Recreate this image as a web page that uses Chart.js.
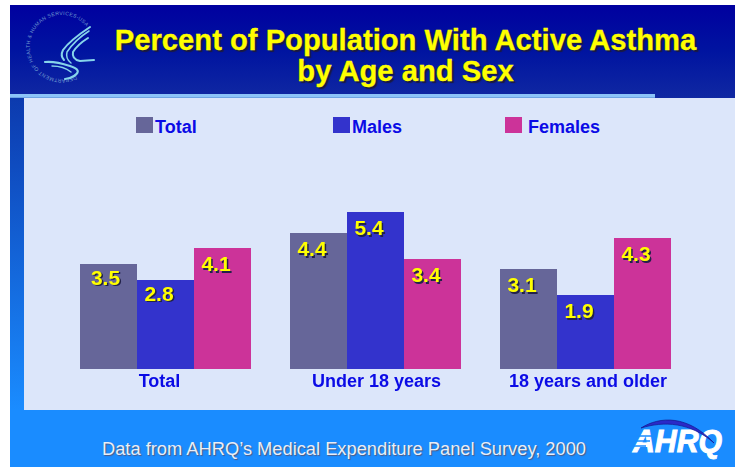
<!DOCTYPE html>
<html><head><meta charset="utf-8">
<script src="https://cdn.jsdelivr.net/npm/chart.js@4"></script>
<style>
html,body{margin:0;padding:0;background:#fff;width:735px;height:467px;overflow:hidden;font-family:"Liberation Sans",Arial,sans-serif}
.abs{position:absolute}
#foot{left:10px;top:98px;width:725px;height:369px;background:#1a8cff}
#strip{left:10px;top:98px;width:14px;height:312px;background:linear-gradient(#0c3aae,#1a8cff)}
#head{left:10px;top:5px;width:725px;height:93px;background:linear-gradient(#00009f,#0014a0 50%,#1028a2)}
#rule{left:10px;top:94px;width:645px;height:4px;background:#8cc4f8;border-bottom:1px solid #6ea4e4;box-sizing:border-box}
#panel{left:24px;top:98px;width:711px;height:312px;background:#dce6fa}
#title{left:75px;top:25px;width:661px;text-align:center;color:#ffff00;font-weight:bold;font-size:29.2px;line-height:31px;text-shadow:2px 2px 1px #1a1a40;-webkit-text-stroke:.3px #ffff00}
#note{left:102px;top:439px;color:#e8eef8;font-size:18.3px;line-height:20px;white-space:nowrap;text-shadow:1px 1px 1px #505a80}
.box{position:absolute;width:17px;height:16px}
.lab{position:absolute;color:#0b0be6;font-weight:bold;font-size:18px;line-height:18px;white-space:nowrap}
canvas{position:absolute;left:0;top:0}
svg{position:absolute;overflow:visible}
</style></head>
<body>
<div class="abs" id="foot"></div><div class="abs" id="strip"></div><div class="abs" id="head"></div>
<div class="abs" id="panel"></div><div class="abs" id="rule"></div>
<svg style="left:0;top:0" width="735" height="467">
  <defs><path id="ring" d="M 76 75.7 A 32 32 0 1 1 76.2 75.6"/></defs>
  <text font-family="Liberation Sans" font-size="5.2" fill="#6f9ad0" letter-spacing=".3"><textPath href="#ring">DEPARTMENT OF HEALTH &amp; HUMAN SERVICES-USA</textPath></text>
  <g fill="none" stroke="#86d4ea" stroke-linecap="round">
    <path d="M90 27 C78 35 68 43 63 50 C61 54 61 57 64 60" stroke-width="2"/>
    <path d="M89 31 C78 38 71 46 67 52 C66 56 67 60 71 63" stroke-width="1.5"/>
    <path d="M88 38 C80 43 76 47 73 52 C72 57 75 60 80 61 L94 60" stroke-width="2"/>
    <path d="M45 62 C55 61 64 64 70 66 C79 69 80 72 74 76 C71 78 68 79 65 79" stroke-width="2.2"/>
    <path d="M52 66 C60 66 66 68 71 72" stroke-width="1.4"/>
  </g>
  <g>
    <text x="633" y="452" font-family="Liberation Sans" font-weight="bold" font-style="italic" font-size="31" fill="#fff" stroke="#fff" stroke-width="1" textLength="89" lengthAdjust="spacingAndGlyphs">AHRQ</text>
    <path d="M630 436h22M628 441h22M626 446h20" stroke="#1a8cff" stroke-width="1.6"/>
    <path d="M641 428 C660 416 688 415 714 443 C690 422 664 421 641 428Z" fill="#2a2ac8" stroke="#14148c" stroke-width=".7"/>
  </g>
</svg>
<div class="abs" id="title">Percent of Population With Active Asthma<br>by Age and Sex</div>
<div class="abs" id="note">Data from AHRQ’s Medical Expenditure Panel Survey, 2000</div>
<div id="legend"></div>
<canvas id="c" width="735" height="467"></canvas>
<script>
const categories = ["Total", "Under 18 years", "18 years and older"];
const seriesNames = ["Total", "Males", "Females"];
const seriesColors = ["#666699", "#3333cc", "#cc3399"];
// Printed percentages, as labelled on the bars
const totalLabels = [3.5, 4.4, 3.1];
const malesLabels = [2.8, 5.4, 1.9];
const femalesLabels = [4.1, 3.4, 4.3];
// Bar heights as actually drawn in the picture (they are not quite proportional to the printed labels)
const totalHeights = [3.5, 4.53, 3.33];
const malesHeights = [2.97, 5.23, 2.47];
const femalesHeights = [4.03, 3.67, 4.37];
const legendBoxX = [136, 333, 505];
const legendTextX = [155, 352, 528];
const tickNudgeX = [-6, 1, 2.5];

const lg = document.getElementById('legend');
seriesNames.forEach((n, i) => {
  const b = document.createElement('div'); b.className = 'box';
  b.style.cssText = `left:${legendBoxX[i]}px;top:117px;background:${seriesColors[i]}`;
  const t = document.createElement('div'); t.className = 'lab'; t.textContent = n;
  t.style.cssText = `left:${legendTextX[i]}px;top:118px`;
  lg.append(b, t);
});

const labelSets = [totalLabels, malesLabels, femalesLabels];
const valueLabels = {
  id: 'valueLabels',
  afterDatasetsDraw(chart) {
    const ctx = chart.ctx;
    ctx.save();
    ctx.font = 'bold 21px "Liberation Sans"';
    ctx.textAlign = 'center'; ctx.textBaseline = 'middle';
    chart.data.datasets.forEach((ds, d) => {
      chart.getDatasetMeta(d).data.forEach((bar, i) => {
        const s = labelSets[d][i].toFixed(1);
        const first = i === 0 && d < 2;
        const x = bar.x + (i === 0 && d === 0 ? -3 : -6.5);
        const y = bar.y + (first ? 15 : 17.5);
        ctx.fillStyle = '#22224a'; ctx.fillText(s, x + 1.5, y + 1.5);
        ctx.fillStyle = '#ffff00'; ctx.fillText(s, x, y);
      });
    });
    const xs = chart.scales.x;
    ctx.font = 'bold 18px "Liberation Sans"';
    ctx.fillStyle = '#0b0be6';
    categories.forEach((c, i) => ctx.fillText(c, xs.getPixelForTick(i) + tickNudgeX[i], xs.top + 13));
    ctx.restore();
  }
};

new Chart(document.getElementById('c'), {
  type: 'bar',
  data: {
    labels: categories,
    datasets: [
      {label: seriesNames[0], data: totalHeights, backgroundColor: seriesColors[0]},
      {label: seriesNames[1], data: malesHeights, backgroundColor: seriesColors[1]},
      {label: seriesNames[2], data: femalesHeights, backgroundColor: seriesColors[2]}
    ]
  },
  options: {
    responsive: false, animation: false,
    layout: {padding: {left: 60.5, right: 44.5, top: 189, bottom: 0}},
    datasets: {bar: {categoryPercentage: 171 / 210, barPercentage: 1}},
    plugins: {legend: {display: false}, title: {display: false}, tooltip: {enabled: false}},
    scales: {
      x: {
        grid: {display: false}, border: {display: false},
        afterFit(s) { s.height = 98; },
        ticks: {display: false}
      },
      y: {display: false, min: 0, max: 6}
    }
  },
  plugins: [valueLabels]
});
</script>
</body></html>
